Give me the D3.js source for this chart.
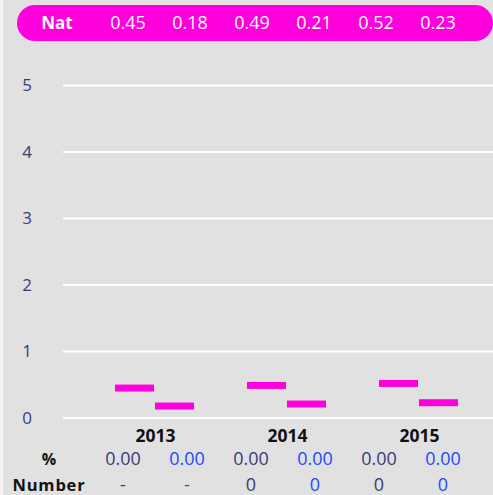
<!DOCTYPE html>
<html lang="en">
<head>
<meta charset="utf-8" />
<title>Nat chart</title>
<script src="https://cdn.jsdelivr.net/npm/d3@7"></script>
<style>
  body { margin: 0; background: #f4f4f4; }
  svg { display: block; font-family: "Open Sans", "Noto Sans", sans-serif; }
</style>
</head>
<body>
<div id="chart"></div>
<script>
// data
var years = ["2013", "2014", "2015"];
var series = ["a", "b"];
var natValues = [0.45, 0.18, 0.49, 0.21, 0.52, 0.23];
var pctValues = ["0.00", "0.00", "0.00", "0.00", "0.00", "0.00"];
var numValues = ["-", "-", "0", "0", "0", "0"];
var yTicks = [0, 1, 2, 3, 4, 5];

var W = 493, H = 495;
var pink = "#ff00dc", slate = "#3b3b78", blue = "#2448ff";

var svg = d3.select("#chart").append("svg")
    .attr("width", W).attr("height", H);

// grey panel
svg.append("rect").attr("x", 3).attr("y", 0)
    .attr("width", W - 3).attr("height", H).attr("fill", "#e1e1e1");

// y scale
var y = d3.scaleLinear().domain([0, 5]).range([418, 85.5]);

// gridlines + tick labels
var grid = svg.append("g");
grid.selectAll("line").data(yTicks).enter().append("line")
    .attr("x1", 63).attr("x2", W)
    .attr("y1", function(d) { return y(d); })
    .attr("y2", function(d) { return y(d); })
    .attr("stroke", "#fff").attr("stroke-width", 2);
grid.selectAll("text").data(yTicks).enter().append("text")
    .attr("x", 27).attr("y", function(d) { return y(d); })
    .attr("dy", "0.35em").attr("text-anchor", "middle")
    .attr("fill", slate).style("font-size", "17px")
    .text(function(d) { return d; });

// x scales
var x = d3.scaleBand().domain(years).range([88.5, 484.5]);
var xi = d3.scaleBand().domain(series).range([0, 79]).paddingInner(0.025);

// bars (thin markers)
var bars = [];
years.forEach(function(yr, i) {
  series.forEach(function(s, j) {
    bars.push({ year: yr, s: s, v: natValues[i * 2 + j] });
  });
});
svg.append("g").selectAll("rect").data(bars).enter().append("rect")
    .attr("x", function(d) { return x(d.year) + x.bandwidth() / 2 - 39.5 + xi(d.s); })
    .attr("y", function(d) { return y(d.v) - 3.5; })
    .attr("width", xi.bandwidth())
    .attr("height", 7)
    .attr("fill", pink);

// year labels
svg.append("g").selectAll("text").data(years).enter().append("text")
    .attr("x", function(d) { return x(d) + x.bandwidth() / 2 + 1; })
    .attr("y", 442)
    .attr("text-anchor", "middle")
    .style("font-size", "17.5px").style("font-weight", "bold")
    .attr("fill", "#111")
    .text(function(d) { return d; });

// top pill
svg.append("rect").attr("x", 17).attr("y", 5)
    .attr("width", 476).attr("height", 36).attr("rx", 18)
    .attr("fill", pink);
svg.append("text").attr("x", 57).attr("y", 23).attr("dy", "0.35em")
    .attr("text-anchor", "middle").attr("fill", "#fff")
    .style("font-size", "17px").style("font-weight", "bold")
    .text("Nat");
var topCol = d3.scalePoint().domain(d3.range(6)).range([128, 438]);
svg.append("g").selectAll("text").data(natValues).enter().append("text")
    .attr("x", function(d, i) { return topCol(i); })
    .attr("y", 23).attr("dy", "0.35em")
    .attr("text-anchor", "middle").attr("fill", "#fff")
    .style("font-size", "18px")
    .text(function(d) { return d.toFixed(2); });

// table rows
var col = d3.scalePoint().domain(d3.range(6)).range([123, 443]);
svg.append("text").attr("x", 49).attr("y", 465)
    .attr("text-anchor", "middle").style("font-size", "16px")
    .style("font-weight", "bold").attr("fill", "#111").text("%");
svg.append("text").attr("x", 49).attr("y", 491)
    .attr("text-anchor", "middle").style("font-size", "16.5px")
    .style("font-weight", "bold").attr("fill", "#111")
    .style("letter-spacing", "0.8px").text("Number");

svg.append("g").selectAll("text").data(pctValues).enter().append("text")
    .attr("x", function(d, i) { return col(i); }).attr("y", 465)
    .attr("text-anchor", "middle").style("font-size", "18px")
    .attr("fill", function(d, i) { return i % 2 ? blue : slate; })
    .text(function(d) { return d; });
svg.append("g").selectAll("text").data(numValues).enter().append("text")
    .attr("x", function(d, i) { return col(i); }).attr("y", 491)
    .attr("text-anchor", "middle").style("font-size", "18px")
    .attr("fill", function(d, i) { return i % 2 ? blue : slate; })
    .text(function(d) { return d; });
</script>
</body>
</html>
